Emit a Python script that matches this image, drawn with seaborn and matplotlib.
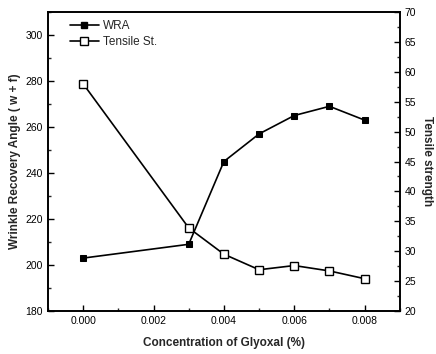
import numpy as np
import pandas as pd
import seaborn as sns
import matplotlib.pyplot as plt
from matplotlib.ticker import MultipleLocator
from matplotlib.lines import Line2D

# Data
glyoxal = [0.000, 0.003, 0.004, 0.005, 0.006, 0.007, 0.008]
wra = [203, 209, 245, 257, 265, 269, 263]
tensile = [58.0, 33.9, 29.5, 26.9, 27.6, 26.7, 25.4]

sns.set_style('ticks')
plt.rcParams['font.family'] = ['Liberation Sans', 'DejaVu Sans']
plt.rcParams['xtick.direction'] = 'in'
plt.rcParams['ytick.direction'] = 'in'

df = pd.DataFrame({'Glyoxal': glyoxal, 'WRA': wra, 'Tensile': tensile})

fig = plt.figure(figsize=(4.36, 3.54), dpi=100)
ax = fig.add_axes([0.110, 0.1215, 0.807, 0.8445])
ax2 = ax.twinx()

sns.lineplot(data=df, x='Glyoxal', y='WRA', ax=ax, color='black', linewidth=1.2,
             marker='s', markersize=5, markerfacecolor='black', markeredgecolor='black')
sns.lineplot(data=df, x='Glyoxal', y='Tensile', ax=ax2, color='black', linewidth=1.2,
             marker='s', markersize=6, markerfacecolor='white', markeredgecolor='black',
             markeredgewidth=1.0)

ax.set_xlim(-0.001, 0.009)
ax.set_ylim(180, 310)
ax2.set_ylim(20, 70)

ax.xaxis.set_major_locator(MultipleLocator(0.002))
ax.xaxis.set_minor_locator(MultipleLocator(0.001))
ax.yaxis.set_major_locator(MultipleLocator(20))
ax.yaxis.set_minor_locator(MultipleLocator(10))
ax2.yaxis.set_major_locator(MultipleLocator(5))
ax2.yaxis.set_minor_locator(MultipleLocator(2.5))
ax.xaxis.set_major_formatter(plt.FuncFormatter(lambda v, p: f'{v:.3f}'))

for a in (ax, ax2):
    for s in a.spines.values():
        s.set_visible(True)
        s.set_linewidth(1.2)
        s.set_color('black')
    a.tick_params(which='major', length=4, width=1, labelsize=7.5, colors='black')
    a.tick_params(which='minor', length=2, width=1)

ax.set_xlabel('Concentration of Glyoxal (%)', fontsize=8.5, fontweight='bold', labelpad=8)
ax.set_ylabel('Wrinkle Recovery Angle ( w + f)', fontsize=8.5, fontweight='bold', labelpad=3)
ax2.set_ylabel('Tensile strength', fontsize=8.5, fontweight='bold', rotation=270, labelpad=12)

handles = [
    Line2D([], [], color='black', linewidth=1.2, marker='s', markersize=5,
           markerfacecolor='black', markeredgecolor='black'),
    Line2D([], [], color='black', linewidth=1.2, marker='s', markersize=6,
           markerfacecolor='white', markeredgecolor='black'),
]
ax.legend(handles, ['WRA', 'Tensile St.'], loc='upper left', frameon=False,
          fontsize=8.5, handlelength=2.4, handletextpad=0.4, borderaxespad=0.3,
          labelspacing=0.3, bbox_to_anchor=(0.04, 1.0))
if ax2.get_legend() is not None:
    ax2.get_legend().remove()

fig.savefig('out.png', dpi=100)
